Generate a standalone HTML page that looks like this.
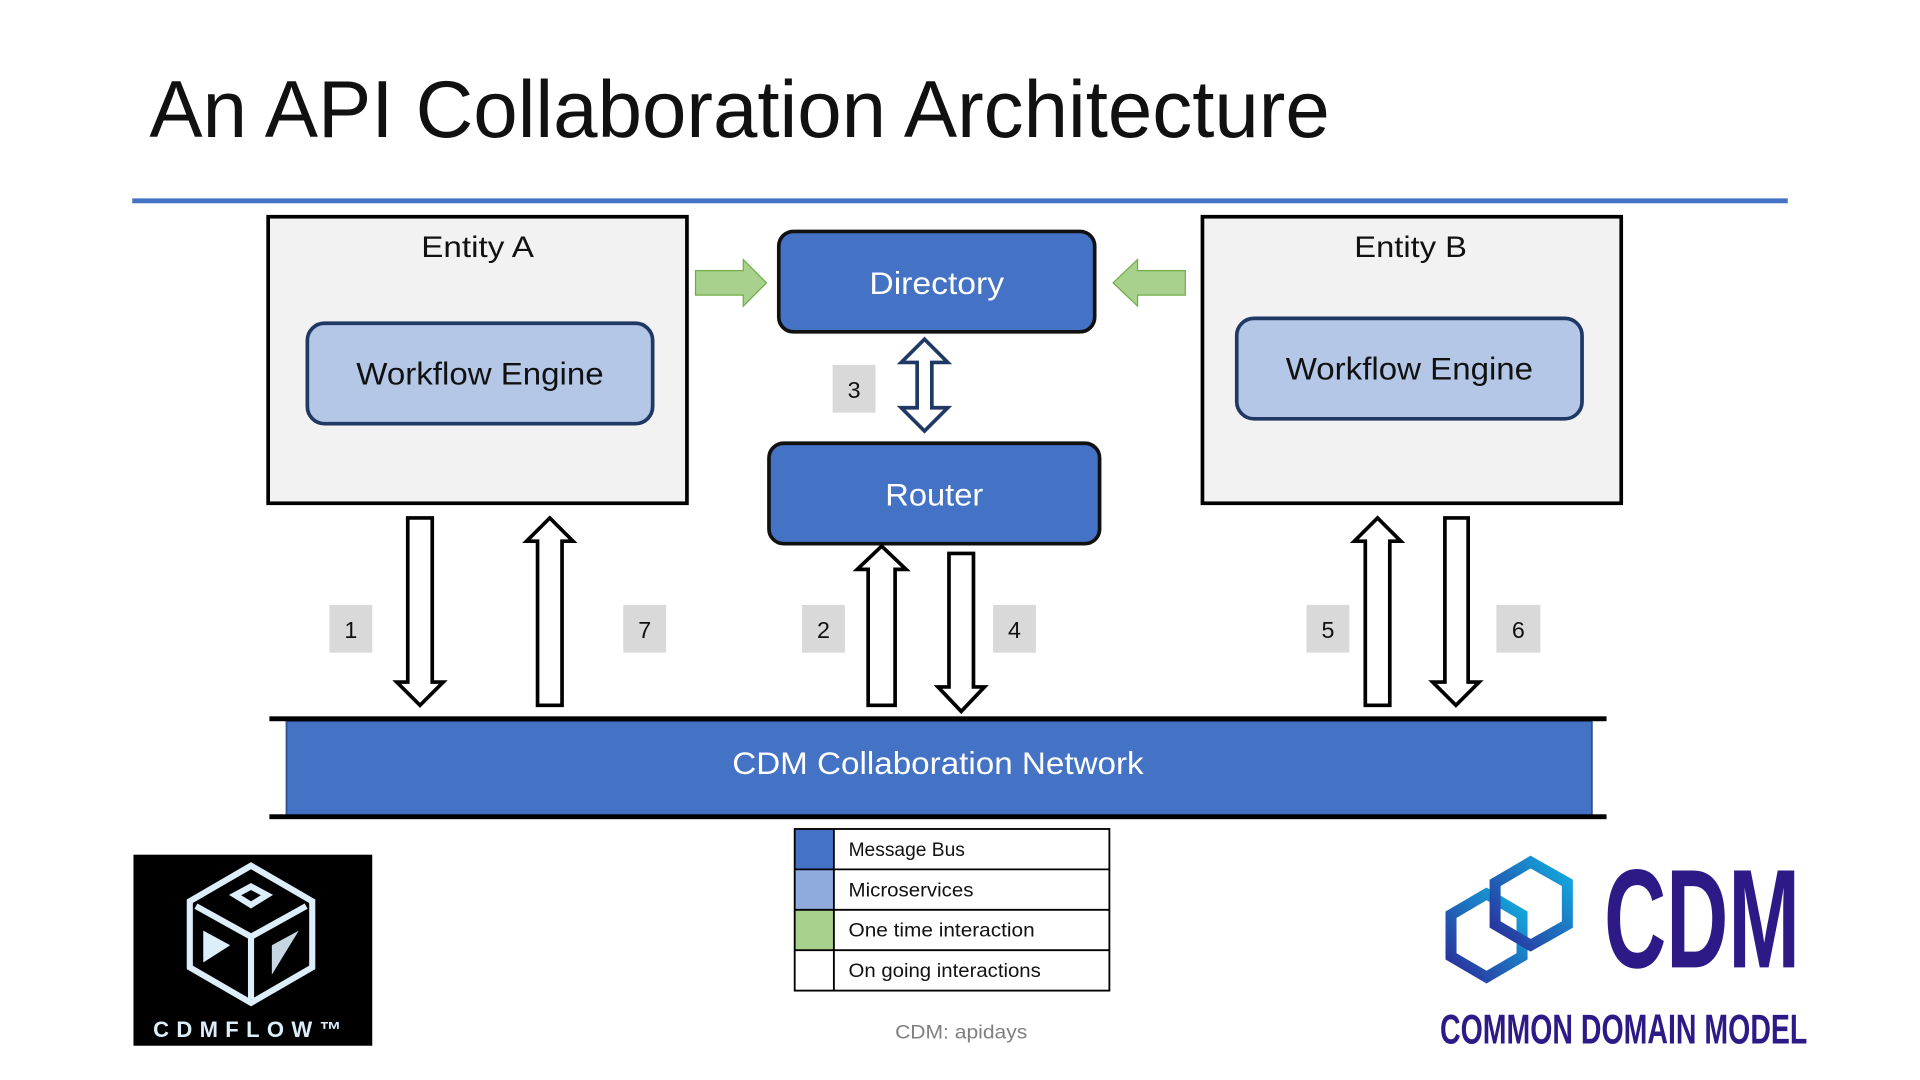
<!DOCTYPE html>
<html><head><meta charset="utf-8"><style>html,body{margin:0;padding:0;background:#fff;overflow:hidden}svg{display:block}</style></head>
<body>
<svg width="1920" height="1080" viewBox="0 0 1568 882" xmlns="http://www.w3.org/2000/svg" font-family="'Liberation Sans', sans-serif">
<rect width="1568" height="882" fill="#fff"/>
<text x="122" y="112" font-size="66" fill="#111" textLength="964" lengthAdjust="spacingAndGlyphs">An API Collaboration Architecture</text>
<rect x="108" y="162" width="1352" height="4" fill="#4472c4"/>

<rect x="219" y="177" width="342" height="234" fill="#f2f2f2" stroke="#000" stroke-width="3"/>
<text x="390" y="210" font-size="24" text-anchor="middle" fill="#111" textLength="92" lengthAdjust="spacingAndGlyphs">Entity A</text>
<rect x="251" y="264" width="282" height="82" rx="14" fill="#b4c7e7" stroke="#1f3864" stroke-width="3"/>
<text x="392" y="314" font-size="26" text-anchor="middle" fill="#111" textLength="202" lengthAdjust="spacingAndGlyphs">Workflow Engine</text>

<rect x="982" y="177" width="342" height="234" fill="#f2f2f2" stroke="#000" stroke-width="3"/>
<text x="1152" y="210" font-size="24" text-anchor="middle" fill="#111" textLength="92" lengthAdjust="spacingAndGlyphs">Entity B</text>
<rect x="1010" y="260" width="282" height="82" rx="14" fill="#b4c7e7" stroke="#1f3864" stroke-width="3"/>
<text x="1151" y="310" font-size="26" text-anchor="middle" fill="#111" textLength="202" lengthAdjust="spacingAndGlyphs">Workflow Engine</text>

<rect x="636" y="189" width="258" height="82" rx="12" fill="#4472c4" stroke="#111" stroke-width="3"/>
<text x="765" y="240" font-size="26" text-anchor="middle" fill="#fff" textLength="110" lengthAdjust="spacingAndGlyphs">Directory</text>
<rect x="628" y="362" width="270" height="82" rx="12" fill="#4472c4" stroke="#111" stroke-width="3"/>
<text x="763" y="413" font-size="26" text-anchor="middle" fill="#fff" textLength="80" lengthAdjust="spacingAndGlyphs">Router</text>

<polygon points="568,221 607,221 607,212 626,231 607,250 607,241 568,241" fill="#a9d18e" stroke="#70ad47" stroke-width="1"/>
<polygon points="968,221 929,221 929,212 909,231 929,250 929,241 968,241" fill="#a9d18e" stroke="#70ad47" stroke-width="1"/>

<polygon points="755,277 774,296 761,296 761,333 774,333 755,352 736,333 749,333 749,296 736,296" fill="#fff" stroke="#1f3864" stroke-width="3" stroke-linejoin="miter"/>
<rect x="680" y="298" width="35" height="39" fill="#d9d9d9"/>
<text x="697.5" y="325" font-size="19" text-anchor="middle" fill="#111">3</text>

<g fill="#fff" stroke="#000" stroke-width="3">
<polygon points="333,423 353,423 353,557 362,557 343,576 324,557 333,557"/>
<polygon points="439,576 459,576 459,442 468,442 449,423 430,442 439,442"/>
<polygon points="709,576 731,576 731,465 740,465 720,446 700,465 709,465"/>
<polygon points="775,452 795,452 795,561 804,561 785,581 766,561 775,561"/>
<polygon points="1115,576 1135,576 1135,442 1144,442 1125,423 1106,442 1115,442"/>
<polygon points="1180,423 1199,423 1199,557 1208,557 1189,576 1170,557 1180,557"/>
</g>
<g fill="#d9d9d9">
<rect x="269" y="494" width="35" height="39"/><rect x="509" y="494" width="35" height="39"/>
<rect x="655" y="494" width="35" height="39"/><rect x="811" y="494" width="35" height="39"/>
<rect x="1067" y="494" width="35" height="39"/><rect x="1222" y="494" width="36" height="39"/>
</g>
<g font-size="19" text-anchor="middle" fill="#111">
<text x="286.5" y="521">1</text><text x="526.5" y="521">7</text><text x="672.5" y="521">2</text>
<text x="828.5" y="521">4</text><text x="1084.5" y="521">5</text><text x="1240" y="521">6</text>
</g>

<rect x="234" y="589" width="1066" height="77" fill="#4472c4" stroke="#2f528f" stroke-width="1.5"/>
<rect x="220" y="585" width="1092" height="4" fill="#000"/>
<rect x="220" y="665" width="1092" height="4" fill="#000"/>
<text x="766" y="632" font-size="26" text-anchor="middle" fill="#fff" textLength="336" lengthAdjust="spacingAndGlyphs">CDM Collaboration Network</text>

<rect x="649" y="677" width="32" height="33" fill="#4472c4"/>
<rect x="649" y="710" width="32" height="33" fill="#8faadc"/>
<rect x="649" y="743" width="32" height="33" fill="#a9d18e"/>
<g fill="none" stroke="#000" stroke-width="1.5">
<rect x="649" y="677" width="257" height="132"/>
<line x1="681" y1="677" x2="681" y2="809"/>
<line x1="649" y1="710" x2="906" y2="710"/><line x1="649" y1="743" x2="906" y2="743"/><line x1="649" y1="776" x2="906" y2="776"/>
</g>
<g font-size="16" fill="#111">
<text x="693" y="699" textLength="95" lengthAdjust="spacingAndGlyphs">Message Bus</text>
<text x="693" y="732" textLength="102" lengthAdjust="spacingAndGlyphs">Microservices</text>
<text x="693" y="765" textLength="152" lengthAdjust="spacingAndGlyphs">One time interaction</text>
<text x="693" y="798" textLength="157" lengthAdjust="spacingAndGlyphs">On going interactions</text>
</g>
<text x="785" y="848" font-size="16" text-anchor="middle" fill="#7f7f7f" textLength="108" lengthAdjust="spacingAndGlyphs">CDM: apidays</text>

<rect x="109" y="698" width="195" height="156" fill="#000"/>
<g fill="none" stroke="#dceefa" stroke-width="5" stroke-linejoin="miter">
<polygon points="205,707 255,736 255,790 205,819 155,790 155,736"/>
<polyline points="160,740 205,765 250,740"/>
<line x1="205" y1="765" x2="205" y2="816"/>
<polygon points="205,724 218,731 205,739 192,731" />
</g>
<polygon points="166,760 188,772 166,786" fill="#dceefa"/>
<polygon points="222,772 244,760 222,796" fill="#dceefa" opacity="0.9"/>
<text x="205" y="847" font-size="18" font-weight="bold" text-anchor="middle" fill="#dceefa" letter-spacing="6">CDMFLOW™</text>

<defs><linearGradient id="g" x1="0" y1="1" x2="1" y2="0"><stop offset="0" stop-color="#2b2a9a"/><stop offset="1" stop-color="#12b0e0"/></linearGradient></defs>
<g fill="none" stroke="url(#g)" stroke-width="9">
<polygon points="1214,730 1243,747 1243,781 1214,798 1185,781 1185,747"/>
<polygon points="1250,704 1280,721 1280,755 1250,772 1221,755 1221,721"/>
</g>
<text x="1390" y="790" font-size="115" font-weight="bold" text-anchor="middle" fill="#2e1a87" textLength="160" lengthAdjust="spacingAndGlyphs">CDM</text>
<text x="1326" y="852" font-size="34" font-weight="bold" text-anchor="middle" fill="#2e1a87" textLength="300" lengthAdjust="spacingAndGlyphs">COMMON DOMAIN MODEL</text>
</svg>
</body></html>
